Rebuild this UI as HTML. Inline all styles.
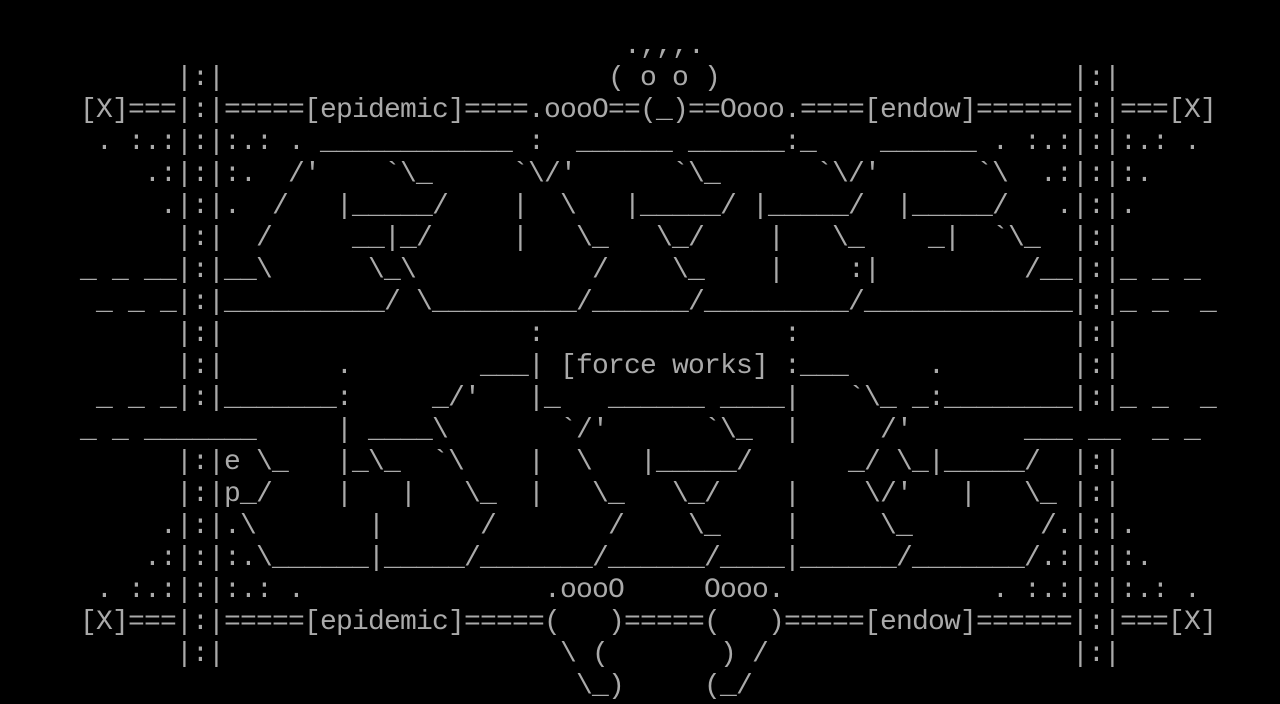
<!DOCTYPE html>
<html>
<head>
<meta charset="utf-8">
<style>
  html, body {
    margin: 0;
    padding: 0;
    background: #000;
    width: 1280px;
    height: 704px;
    overflow: hidden;
  }
  pre {
    position: absolute;
    left: 0;
    top: 31px;
    margin: 0;
    padding: 0;
    font-family: "Liberation Mono", monospace;
    font-size: 28px;
    letter-spacing: -0.8027px;
    line-height: 32px;
    color: #aaaaaa;
    white-space: pre;
  }
</style>
</head>
<body>
<pre>
                                       .,,,.
           |:|                        ( o o )                      |:|
     [X]===|:|=====[epidemic]====.oooO==(_)==Oooo.====[endow]======|:|===[X]
      . :.:|:|:.: . ____________ :  ______ ______:_    ______ . :.:|:|:.: .
         .:|:|:.  /'    `\_     `\/'      `\_      `\/'      `\  .:|:|:.
          .|:|.  /   |_____/    |  \   |_____/ |_____/  |_____/   .|:|.
           |:|  /     __|_/     |   \_   \_/    |   \_    _|  `\_  |:|
     _ _ __|:|__\      \_\           /    \_    |    :|         /__|:|_ _ _
      _ _ _|:|__________/ \_________/______/_________/_____________|:|_ _  _
           |:|                   :               :                 |:|
           |:|       .        ___| [force works] :___     .        |:|
      _ _ _|:|_______:     _/'   |_   ______ ____|   `\_ _:________|:|_ _  _
     _ _ _______     | ____\       `/'      `\_  |     /'       ___ __  _ _
           |:|e \_   |_\_  `\    |  \   |_____/      _/ \_|_____/  |:|
           |:|p_/    |   |   \_  |   \_   \_/    |    \/'   |   \_ |:|
          .|:|.\       |      /       /    \_    |     \_        /.|:|.
         .:|:|:.\______|_____/_______/______/____|______/_______/.:|:|:.
      . :.:|:|:.: .               .oooO     Oooo.             . :.:|:|:.: .
     [X]===|:|=====[epidemic]=====(   )=====(   )=====[endow]======|:|===[X]
           |:|                     \ (       ) /                   |:|
                                    \_)     (_/
</pre>
</body>
</html>
